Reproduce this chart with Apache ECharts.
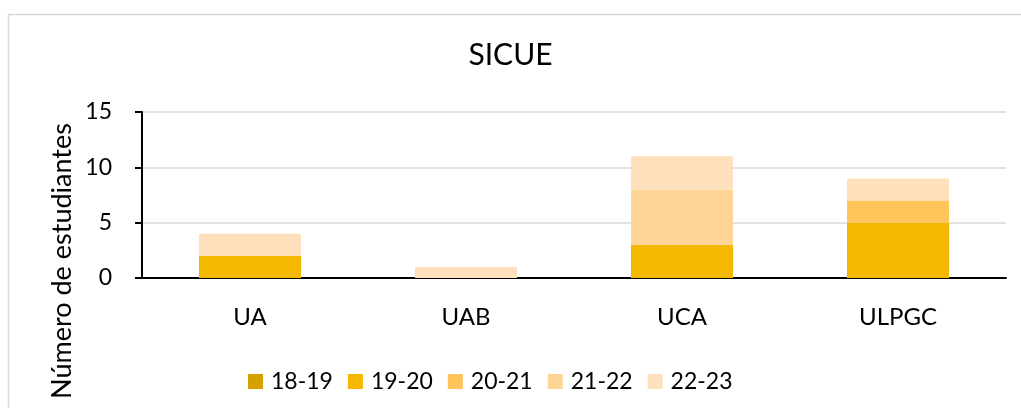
<!DOCTYPE html>
<html lang="es">
<head>
    <meta charset="UTF-8">
    <title>SICUE</title>
    <style>
        html, body { margin: 0; padding: 0; background: #fff; }
        #main { width: 1021px; height: 408px; }
    </style>
</head>
<body>
    <div id="main"></div>
    <script src="https://cdn.jsdelivr.net/npm/echarts@6/dist/echarts.min.js"></script>
    <script>
        // datos
        var universidades = ['UA', 'UAB', 'UCA', 'ULPGC'];
        var cursos = ['18-19', '19-20', '20-21', '21-22', '22-23'];
        var c1819 = [0, 0, 0, 0];
        var c1920 = [2, 0, 3, 5];
        var c2021 = [0, 0, 0, 2];
        var c2122 = [0, 0, 5, 0];
        var c2223 = [2, 1, 3, 2];
        var yTicks = [0, 5, 10, 15];

        var colores = ['#D6A100', '#F4B800', '#FFC55A', '#FFD596', '#FFE0BD'];
        var valores = [c1819, c1920, c2021, c2122, c2223];
        var fuente = 'Lato';

        var series = [];
        for (var i = 0; i < cursos.length; i++) {
            series.push({
                name: cursos[i],
                type: 'bar',
                stack: 'total',
                barWidth: 102,
                itemStyle: { color: colores[i] },
                data: valores[i]
            });
        }

        var myChart = echarts.init(document.getElementById('main'));
        var option = {
            animation: false,
            textStyle: { fontFamily: fuente },
            title: {
                text: 'SICUE',
                left: 'center',
                top: 35,
                textStyle: { fontFamily: fuente, fontSize: 30, fontWeight: 'normal', color: '#000' }
            },
            graphic: [
                {   // borde del área del gráfico
                    type: 'rect',
                    silent: true,
                    shape: { x: 8.5, y: 14.5, width: 1100, height: 500 },
                    style: { fill: 'none', stroke: '#d9d9d9', lineWidth: 1.5 }
                },
                {   // título del eje y
                    type: 'text',
                    x: 62,
                    y: 261,
                    rotation: Math.PI / 2,
                    style: {
                        text: 'Número de estudiantes',
                        fontFamily: fuente,
                        fontSize: 27,
                        fill: '#000',
                        align: 'center',
                        verticalAlign: 'middle'
                    }
                }
            ],
            legend: {
                data: cursos,
                left: 243,
                top: 365,
                itemWidth: 15,
                itemHeight: 15,
                itemGap: 15,
                icon: 'rect',
                selectedMode: false,
                textStyle: { fontFamily: fuente, fontSize: 23, color: '#000', padding: [0, 0, 0, 3] }
            },
            grid: {
                left: 142,
                right: 15,
                top: 112,
                bottom: 130
            },
            xAxis: {
                type: 'category',
                data: universidades,
                axisLine: { lineStyle: { color: '#000', width: 2 } },
                axisTick: { show: false },
                axisLabel: { margin: 27, fontFamily: fuente, fontSize: 24, color: '#000' }
            },
            yAxis: {
                type: 'value',
                min: yTicks[0],
                max: yTicks[yTicks.length - 1],
                interval: 5,
                axisLine: { show: true, lineStyle: { color: '#000', width: 2 } },
                axisTick: { show: true, length: 7, lineStyle: { color: '#000', width: 2 } },
                axisLabel: { margin: 30, fontFamily: fuente, fontSize: 23, color: '#000' },
                splitLine: { lineStyle: { color: '#d9d9d9', width: 1.5 } }
            },
            series: series
        };
        myChart.setOption(option);
    </script>
</body>
</html>
